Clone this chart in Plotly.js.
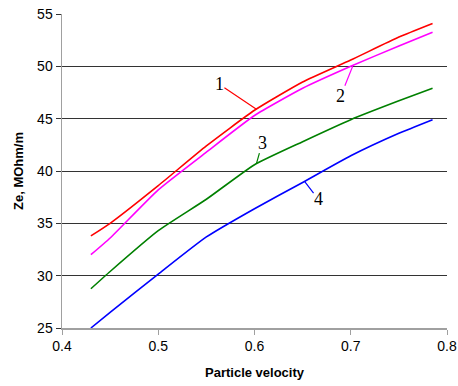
<!DOCTYPE html>
<html>
<head>
<meta charset="utf-8">
<script src="https://cdn.plot.ly/plotly-3.0.1.min.js"></script>
<style>html,body{margin:0;padding:0;background:#fff;}#chart{width:458px;height:386px;}</style>
</head>
<body>
<div id="chart"></div>
<script>
// Particle velocity (x) and Ze, MOhm/m (y) for curves 1..4
const velocity = [0.43, 0.45, 0.5, 0.55, 0.6, 0.65, 0.7, 0.75, 0.785];
const ze1 = [33.8, 35.0, 38.6, 42.4, 45.8, 48.5, 50.6, 52.8, 54.1];
const ze2 = [32.0, 33.6, 38.2, 41.8, 45.3, 47.9, 50.0, 51.95, 53.25];
const ze3 = [28.75, 30.4, 34.3, 37.3, 40.6, 42.8, 44.9, 46.7, 47.9];
const ze4 = [25.0, 26.5, 30.15, 33.7, 36.4, 38.9, 41.45, 43.6, 44.9];
const curveLabels = ["1", "2", "3", "4"];
const labelX = [0.602, 0.702, 0.602, 0.652];
const labelY = [45.9, 50.0, 40.7, 39.0];
const xTicks = [0.4, 0.5, 0.6, 0.7, 0.8];
const yTicks = [25, 30, 35, 40, 45, 50, 55];

const colors = ["#ff0000", "#ff00ff", "#008000", "#0000ff"];
const series = [ze1, ze2, ze3, ze4];
const traces = series.map((s, i) => ({
  x: velocity, y: s, type: "scatter", mode: "lines",
  line: {color: colors[i], width: 1.6, shape: "spline", smoothing: 0.5},
  showlegend: false, hoverinfo: "skip"
}));

const offsets = [[-37, -25], [-12, 30], [6, -21], [14, 18]];
const annotations = curveLabels.map((t, i) => ({
  x: labelX[i], y: labelY[i], xref: "x", yref: "y",
  text: t, showarrow: true, arrowhead: 0, arrowwidth: 1.2,
  arrowcolor: colors[i], ax: offsets[i][0], ay: offsets[i][1],
  font: {family: "Liberation Serif, Times New Roman, serif", size: 18, color: "#000"},
  standoff: 0, startstandoff: 0, borderpad: 0
}));

const layout = {
  width: 458, height: 386,
  margin: {l: 62, r: 11, t: 14, b: 58},
  paper_bgcolor: "#fff", plot_bgcolor: "#fff",
  font: {family: "Liberation Sans, Arial, sans-serif", size: 14, color: "#000"},
  xaxis: {
    range: [0.4, 0.8], tickvals: xTicks, ticktext: xTicks.map(v => v.toFixed(1)),
    showgrid: false, zeroline: false, showline: true, linecolor: "#a0a0a0", linewidth: 1.5,
    ticks: "outside", ticklen: 5, tickcolor: "#a0a0a0",
    title: {text: "Particle velocity", font: {size: 13, weight: "bold"}, standoff: 14}
  },
  yaxis: {
    range: [25, 55], tickvals: yTicks,
    showgrid: true, gridcolor: "#333", gridwidth: 1, zeroline: false,
    showline: true, linecolor: "#a0a0a0", linewidth: 1.5,
    ticks: "outside", ticklen: 5, tickcolor: "#333",
    title: {text: "Ze, MOhm/m", font: {size: 13, weight: "bold"}, standoff: 10}
  },
  annotations: annotations
};

Plotly.newPlot("chart", traces, layout, {displayModeBar: false, staticPlot: true});
</script>
</body>
</html>
